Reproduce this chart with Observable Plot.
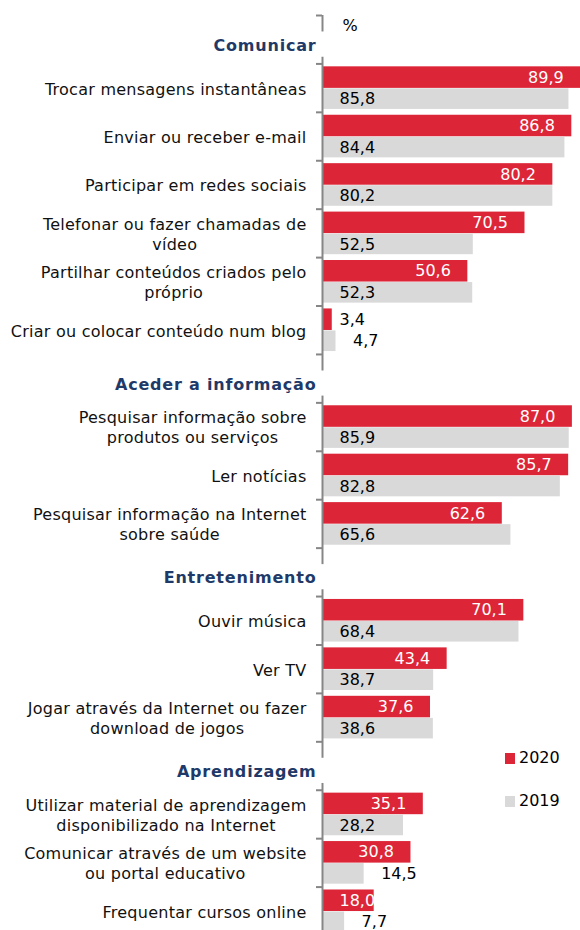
<!DOCTYPE html>
<html>
<head>
<meta charset="utf-8">
<script src="https://cdn.jsdelivr.net/npm/d3@7"></script>
<script src="https://cdn.jsdelivr.net/npm/@observablehq/plot@0.6"></script>
<style>
  html, body { margin: 0; padding: 0; background: #fff; overflow: hidden; }
  #wrap { position: relative; width: 580px; height: 930px; overflow: hidden; font-family: "DejaVu Sans", Verdana, sans-serif; }
  .leg { position: absolute; font-size: 16px; color: #000; line-height: 1; }
  .leg .sw { display: inline-block; width: 10px; height: 11px; margin-right: 4px; vertical-align: -1px; }
  g[fill="#111111"] text { letter-spacing: 0.25px; }
  g[fill="#1F3A68"] text { letter-spacing: 0.8px; }
</style>
</head>
<body>
<div id="wrap"></div>
<script>
// ---- data ----
const groups = ["Comunicar", "Aceder a informação", "Entretenimento", "Aprendizagem"];
const items = [
  "Trocar mensagens instantâneas",
  "Enviar ou receber e-mail",
  "Participar em redes sociais",
  "Telefonar ou fazer chamadas de\nvídeo",
  "Partilhar conteúdos criados pelo\npróprio",
  "Criar ou colocar conteúdo num blog",
  "Pesquisar informação sobre\nprodutos ou serviços",
  "Ler notícias",
  "Pesquisar informação na Internet\nsobre saúde",
  "Ouvir música",
  "Ver TV",
  "Jogar através da Internet ou fazer\ndownload de jogos",
  "Utilizar material de aprendizagem\ndisponibilizado na Internet",
  "Comunicar através de um website\nou portal educativo",
  "Frequentar cursos online"
];
const itemGroup = [0,0,0,0,0,0,1,1,1,2,2,2,3,3,3];
const v2020 = [89.9,86.8,80.2,70.5,50.6,3.4,87.0,85.7,62.6,70.1,43.4,37.6,35.1,30.8,18.0];
const v2019 = [85.8,84.4,80.2,52.5,52.3,4.7,85.9,82.8,65.6,68.4,38.7,38.6,28.2,14.5,7.7];
const years = ["2020", "2019"];

// ---- layout of slots (header rows + item rows) ----
const RED = "#DC2638", GREY = "#D9D9D9", NAVY = "#1F3A68", AXIS = "#868686", LABEL = "#111111";
const headerRows = [];
const itemRows = [];
let slot = 0;
groups.forEach((g, gi) => {
  headerRows.push({name: g, slot: slot++});
  items.forEach((it, i) => {
    if (itemGroup[i] === gi) itemRows.push({name: it, slot: slot++, v2020: v2020[i], v2019: v2019[i]});
  });
});
const nSlots = slot;

// axis segments: broken where header labels sit
const segs = [];
headerRows.forEach((h, k) => {
  if (k === 0) segs.push({y1: h.slot, y2: h.slot + 0.34});
  const end = k + 1 < headerRows.length ? headerRows[k + 1].slot + 0.34 : nSlots;
  segs.push({y1: h.slot + 0.86, y2: end});
});
const tickRows = d3.range(0, nSlots + 1);

const fmt = v => v.toFixed(1).replace(".", ",");

// measure label widths for centred multi-line labels
const ctx = document.createElement("canvas").getContext("2d");
ctx.font = "16px 'DejaVu Sans'";
const LS = 0.25;
const labelMarks = itemRows.map(r => {
  const w = d3.max(r.name.split("\n"), s => ctx.measureText(s).width + s.length * LS);
  return Plot.text([r], {
    x: 0, y: d => d.slot + 0.5, text: "name",
    textAnchor: "middle", dx: -16 - w / 2, lineHeight: 1.25,
    fill: LABEL, fontSize: 16
  });
});

const chart = Plot.plot({
  width: 580,
  height: 935,
  marginLeft: 322, marginRight: 0, marginTop: 15, marginBottom: 0,
  x: {domain: [0, 90], range: [322, 580.5], axis: null},
  y: {domain: [0, nSlots], range: [15, 935], axis: null},
  style: {fontFamily: "'DejaVu Sans', Verdana, sans-serif", fontSize: "16px", background: "#fff"},
  marks: [
    // bars
    Plot.rect(itemRows, {x1: 0, x2: "v2020", y1: d => d.slot + 0.06, y2: d => d.slot + 0.505, fill: RED}),
    Plot.rect(itemRows, {x1: 0, x2: "v2019", y1: d => d.slot + 0.515, y2: d => d.slot + 0.94, fill: GREY}),
    // axis
    Plot.ruleX(segs, {x: () => 0, y1: "y1", y2: "y2", stroke: AXIS, strokeWidth: 2}),
    Plot.ruleY(tickRows, {y: d => d, x1: () => 0, x2: () => 0, insetLeft: -6, insetRight: 0, stroke: AXIS, strokeWidth: 2}),
    // value labels 2020
    Plot.text(itemRows.filter(d => d.v2020 >= 20), {x: "v2020", y: d => d.slot + 0.283, text: d => fmt(d.v2020), textAnchor: "end", dx: -17, fill: "#fff", fontSize: 16}),
    Plot.text(itemRows.filter(d => d.v2020 < 20), {x: () => 0, y: d => d.slot + 0.283, text: d => fmt(d.v2020), textAnchor: "start", dx: 17, fill: d => d.v2020 < 10 ? "#000" : "#fff", fontSize: 16}),
    // value labels 2019
    Plot.text(itemRows.filter(d => d.v2019 >= 20), {x: () => 0, y: d => d.slot + 0.728, text: d => fmt(d.v2019), textAnchor: "start", dx: 17, fill: "#000", fontSize: 16}),
    Plot.text(itemRows.filter(d => d.v2019 < 20), {x: "v2019", y: d => d.slot + 0.728, text: d => fmt(d.v2019), textAnchor: "start", dx: 17, fill: "#000", fontSize: 16}),
    // category labels
    ...labelMarks,
    // group headers
    Plot.text(headerRows, {x: () => 0, y: d => d.slot + 0.62, text: "name", textAnchor: "end", dx: -6, fontWeight: "bold", fill: NAVY, fontSize: 16}),
    // unit
    Plot.text(["%"], {frameAnchor: "top-left", text: d => d, dx: 20, dy: 10, textAnchor: "start", lineAnchor: "middle", fill: "#000", fontSize: 16})
  ]
});

const wrap = document.getElementById("wrap");
wrap.appendChild(chart);

// legend
const legendColors = {"2020": RED, "2019": GREY};
const legendTops = {"2020": 750, "2019": 793};
years.forEach(y => {
  const div = document.createElement("div");
  div.className = "leg";
  div.style.left = "505px";
  div.style.top = legendTops[y] + "px";
  div.innerHTML = `<span class="sw" style="background:${legendColors[y]}"></span>${y}`;
  wrap.appendChild(div);
});
</script>
</body>
</html>
